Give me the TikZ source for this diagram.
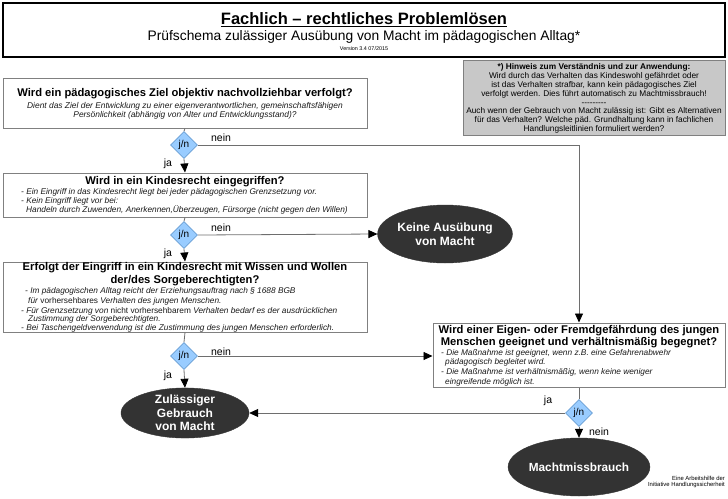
\documentclass[tikz,border=0pt]{standalone}
\usepackage{fontspec}
\setmainfont{Liberation Sans}
\usetikzlibrary{shapes.geometric,arrows.meta}
\definecolor{boxgray}{HTML}{808080}
\definecolor{hintfill}{HTML}{C8C8C8}
\definecolor{dia}{HTML}{99CCFF}
\definecolor{diaborder}{HTML}{6A9FD4}
\definecolor{ell}{HTML}{333333}
\definecolor{conncol}{HTML}{6E6E6E}
\definecolor{txt}{HTML}{1A1A1A}
\tikzset{
  qbox/.style={draw=boxgray, line width=1pt, fill=white, inner sep=0pt},
  dec/.style={diamond, aspect=1, draw=diaborder, line width=0.8pt, fill=dia, minimum width=27pt, minimum height=27pt, inner sep=0pt, font=\fontsize{10}{10}\selectfont},
  endell/.style={ellipse, fill=ell, draw=ell, text=white, align=center, inner sep=0pt, font=\bfseries\fontsize{12}{13.5}\selectfont},
  conn/.style={draw=conncol, line width=0.8pt},
  arr/.style={conn, -{Triangle[length=9pt,width=8pt,color=black]}},
  lbl/.style={font=\fontsize{10.5}{10.5}\selectfont, inner sep=0pt},
  qtitle/.style={font=\bfseries\fontsize{11.2}{12.5}\selectfont, align=center, inner sep=0pt},
  item/.style={font=\itshape\fontsize{8.3}{9}\selectfont, inner sep=0pt, anchor=west, text height=6pt, text depth=1.8pt, text=txt},
  itemc/.style={font=\itshape\fontsize{8.4}{8.8}\selectfont, inner sep=0pt, align=center, text=txt},
  hint/.style={font=\fontsize{8.3}{8.8}\selectfont, inner sep=0pt, align=center},
  small/.style={font=\fontsize{5.9}{6.5}\selectfont, inner sep=0pt},
}
\begin{document}
\begin{tikzpicture}[x=1pt,y=-1pt]
\useasboundingbox (0,0) rectangle (728,498);
% title
\node[draw=black, line width=2.5pt, minimum width=722pt, minimum height=54pt, inner sep=0pt] (titlebox) at (364,30) {};
\node[inner sep=0pt, font=\bfseries\fontsize{16.5}{16.5}\selectfont] (title) at (364,20) {\underline{Fachlich – rechtliches Problemlösen}};
\node[inner sep=0pt, font=\fontsize{13.8}{13.8}\selectfont] (subtitle) at (364,37) {Prüfschema zulässiger Ausübung von Macht im pädagogischen Alltag*};
\node[inner sep=0pt, font=\fontsize{5.4}{5.4}\selectfont] (version) at (364,49) {Version 3.4 07/2015};
% hint box
\node[draw=boxgray, line width=1pt, fill=hintfill, minimum width=262pt, minimum height=75pt, inner sep=0pt] (hintbox) at (594,97.5) {};
\node[hint] (hinttext) at (594,98.5) {\textbf{*) Hinweis zum Verständnis und zur Anwendung:}\\
Wird durch das Verhalten das Kindeswohl gefährdet oder\\
ist das Verhalten strafbar, kann kein pädagogisches Ziel\\
verfolgt werden. Dies führt automatisch zu Machtmissbrauch!\\
{-}{-}{-}{-}{-}{-}{-}{-}{-}\\
Auch wenn der Gebrauch von Macht zulässig ist: Gibt es Alternativen\\
für das Verhalten? Welche päd. Grundhaltung kann in fachlichen\\
Handlungsleitlinien formuliert werden?};
% box 1
\node[qbox, minimum width=364pt, minimum height=50pt] (b1) at (185,103) {};
\node[qtitle] (b1t) at (185,94) {Wird ein pädagogisches Ziel objektiv nachvollziehbar verfolgt?};
\node[itemc] (b1i) at (185,111) {Dient das Ziel der Entwicklung zu einer eigenverantwortlichen, gemeinschaftsfähigen\\Persönlichkeit (abhängig von Alter und Entwicklungsstand)?};
% box 2
\node[qbox, minimum width=364pt, minimum height=44pt] (b2) at (185,195) {};
\node[qtitle] (b2t) at (185,182) {Wird in ein Kindesrecht eingegriffen?};
\node[item] (b2i1) at (21,192) {- Ein Eingriff in das Kindesrecht liegt bei jeder pädagogischen Grenzsetzung vor.};
\node[item] (b2i2) at (21,201) {- Kein Eingriff liegt vor bei:};
\node[item] (b2i3) at (26,210) {Handeln durch Zuwenden, Anerkennen,Überzeugen, Fürsorge (nicht gegen den Willen)};
% box 3
\node[qbox, minimum width=364pt, minimum height=70pt] (b3) at (185,297) {};
\node[qtitle] (b3t) at (185,274) {Erfolgt der Eingriff in ein Kindesrecht mit Wissen und Wollen\\der/des Sorgeberechtigten?};
\node[item] (b3i1) at (25,291) {- Im pädagogischen Alltag reicht der Erziehungsauftrag nach § 1688 BGB};
\node[item] (b3i2) at (28,301) {für \textup{vorhersehbares} Verhalten des jungen Menschen.};
\node[item] (b3i3) at (21,311) {- Für Grenzsetzung von \textup{nicht vorhersehbarem} Verhalten bedarf es der ausdrücklichen};
\node[item] (b3i4) at (28,319) {Zustimmung der Sorgeberechtigten.};
\node[item] (b3i5) at (21,328) {- Bei Taschengeldverwendung ist die Zustimmung des jungen Menschen erforderlich.};
% box 4
\node[qbox, minimum width=292pt, minimum height=64pt] (b4) at (579,355) {};
\node[qtitle] (b4t) at (579,336.5) {Wird einer Eigen- oder Fremdgefährdung des jungen\\Menschen geeignet und verhältnismäßig begegnet?};
\node[item] (b4i1) at (441,353) {- Die Maßnahme ist geeignet, wenn z.B. eine Gefahrenabwehr};
\node[item] (b4i2) at (445,362) {pädagogisch begleitet wird.};
\node[item] (b4i3) at (441,372) {- Die Maßnahme ist verhältnismäßig, wenn keine weniger};
\node[item] (b4i4) at (445,382) {eingreifende möglich ist.};
% diamonds
\node[dec] (d1) at (184,145) {j/n};
\node[dec] (d2) at (184,235) {j/n};
\node[dec] (d3) at (184,356) {j/n};
\node[dec] (d4) at (579,413) {j/n};
% end ellipses
\node[endell, minimum width=132pt, minimum height=58pt] (keine) at (445,234) {Keine Ausübung\\von Macht};
\node[endell, minimum width=128pt, minimum height=50pt, font=\bfseries\fontsize{12}{13.3}\selectfont] (zul) at (185,413) {Zulässiger\\Gebrauch\\von Macht};
\node[endell, minimum width=128pt, minimum height=58pt, font=\bfseries\fontsize{11.8}{12}\selectfont] (miss) at (579,467) {Machtmissbrauch};
% connectors
\draw[conn] (b1.south) -- (d1.north);
\draw[arr] (d1.south) -- (b2.north);
\draw[arr] (d1.east) -- (d1.east -| b4.north) -- (b4.north);
\draw[conn] (b2.south) -- (d2.north);
\draw[arr] (d2.east) -- (keine.west);
\draw[arr] (d2.south) -- (b3.north);
\draw[conn] (b3.south) -- (d3.north);
\draw[arr] (d3.east) -- (d3.east -| b4.west);
\draw[arr] (d3.south) -- (zul.north);
\draw[conn] (b4.south) -- (d4.north);
\draw[arr] (d4.west) -- (zul.east);
\draw[arr] (d4.south) -- (miss.north);
% labels
\node[lbl] (l1n) at (221,138) {nein};
\node[lbl] (l1j) at (168,164) {ja};
\node[lbl] (l2n) at (221,228) {nein};
\node[lbl] (l2j) at (168,254) {ja};
\node[lbl] (l3n) at (221,352) {nein};
\node[lbl] (l3j) at (168,376) {ja};
\node[lbl] (l4j) at (548,401) {ja};
\node[lbl] (l4n) at (599,432) {nein};
% credit
\node[small, align=right, anchor=east] (credit) at (725,482) {Eine Arbeitshilfe der\\Initiative Handlungssicherheit};
\end{tikzpicture}
\end{document}
